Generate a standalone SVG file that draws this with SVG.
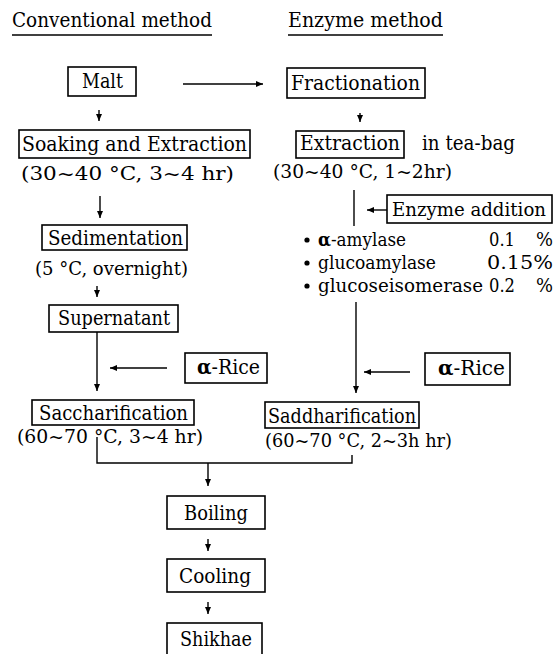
<svg xmlns="http://www.w3.org/2000/svg" width="556" height="654" viewBox="0 0 556 654">
<defs>
<marker id="ah" markerWidth="8" markerHeight="8" refX="7" refY="4" orient="auto" markerUnits="userSpaceOnUse">
<path d="M0,1 L7,4 L0,7 Z" fill="#000"/>
</marker>
<style>
.t{font-family:'DejaVu Serif','Liberation Serif',serif;font-size:20px;fill:#000}
.s{font-size:19px}
.l{font-size:18px}
rect{fill:none;stroke:#000;stroke-width:1.6}
.c line,.c path{stroke:#000;stroke-width:1.4;fill:none}
.a{marker-end:url(#ah)}
.b{font-weight:bold}
</style>
</defs>
<rect x="0" y="0" width="556" height="654" style="fill:#fff;stroke:none"/>
<g class="t">
<g id="headers">
<text x="12" y="27" textLength="200" lengthAdjust="spacingAndGlyphs">Conventional method</text>
<line x1="12" y1="35" x2="212" y2="35" stroke="#000" stroke-width="1.3"/>
<text x="288" y="27" textLength="155" lengthAdjust="spacingAndGlyphs">Enzyme method</text>
<line x1="288" y1="35" x2="443" y2="35" stroke="#000" stroke-width="1.3"/>
</g>
<g id="malt"><rect x="68" y="67" width="68" height="29"/><text x="82" y="88" textLength="41" lengthAdjust="spacingAndGlyphs">Malt</text></g>
<g id="soaking"><rect x="19" y="130" width="231" height="28"/><text x="22" y="151" textLength="225" lengthAdjust="spacingAndGlyphs">Soaking and Extraction</text>
<text class="s" x="21" y="180" textLength="213" lengthAdjust="spacingAndGlyphs">(30~40 °C, 3~4 hr)</text></g>
<g id="sedimentation"><rect x="42" y="225" width="145" height="25"/><text x="48" y="245" textLength="135" lengthAdjust="spacingAndGlyphs">Sedimentation</text>
<text class="s" x="35" y="275" textLength="153" lengthAdjust="spacingAndGlyphs">(5 °C, overnight)</text></g>
<g id="supernatant"><rect x="49" y="305" width="129" height="27"/><text x="58" y="325" textLength="112" lengthAdjust="spacingAndGlyphs">Supernatant</text></g>
<g id="rice1"><rect x="185" y="353" width="82" height="30"/><text x="197" y="374" textLength="63" lengthAdjust="spacingAndGlyphs"><tspan class="b">α</tspan>-Rice</text></g>
<g id="saccharification"><rect x="32" y="400" width="162" height="25"/><text x="39" y="420" textLength="149" lengthAdjust="spacingAndGlyphs">Saccharification</text>
<text class="s" x="17" y="443" textLength="186" lengthAdjust="spacingAndGlyphs">(60~70 °C, 3~4 hr)</text></g>
<g id="fractionation"><rect x="287" y="68" width="138" height="30"/><text x="291" y="90" textLength="129" lengthAdjust="spacingAndGlyphs">Fractionation</text></g>
<g id="extraction"><rect x="296" y="131" width="108" height="27"/><text x="300" y="150" textLength="100" lengthAdjust="spacingAndGlyphs">Extraction</text>
<text x="422" y="150" textLength="93" lengthAdjust="spacingAndGlyphs">in tea-bag</text>
<text class="s" x="273" y="178" textLength="179" lengthAdjust="spacingAndGlyphs">(30~40 °C, 1~2hr)</text></g>
<g id="enzyme"><rect x="387" y="195" width="165" height="28"/><text x="392" y="216" font-size="19" textLength="154" lengthAdjust="spacingAndGlyphs">Enzyme addition</text>
<circle cx="307" cy="240" r="2.6"/><circle cx="307" cy="263" r="2.6"/><circle cx="307" cy="286" r="2.6"/>
<text class="l" x="318" y="246" textLength="88" lengthAdjust="spacingAndGlyphs"><tspan class="b">α</tspan>-amylase</text>
<text class="l" x="489" y="246" textLength="26" lengthAdjust="spacingAndGlyphs">0.1</text><text class="l" x="536" y="246" textLength="17" lengthAdjust="spacingAndGlyphs">%</text>
<text class="l" x="318" y="269" textLength="118" lengthAdjust="spacingAndGlyphs">glucoamylase</text>
<text class="l" x="487" y="269" textLength="66" lengthAdjust="spacingAndGlyphs">0.15%</text>
<text class="l" x="318" y="292" textLength="165" lengthAdjust="spacingAndGlyphs">glucoseisomerase</text>
<text class="l" x="489" y="292" textLength="26" lengthAdjust="spacingAndGlyphs">0.2</text><text class="l" x="536" y="292" textLength="17" lengthAdjust="spacingAndGlyphs">%</text></g>
<g id="rice2"><rect x="425" y="353" width="85" height="32"/><text x="438" y="375" textLength="67" lengthAdjust="spacingAndGlyphs"><tspan class="b">α</tspan>-Rice</text></g>
<g id="saddharification"><rect x="265" y="402" width="154" height="26"/><text x="268" y="423" textLength="148" lengthAdjust="spacingAndGlyphs">Saddharification</text>
<text class="s" x="265" y="447" textLength="187" lengthAdjust="spacingAndGlyphs">(60~70 °C, 2~3h hr)</text></g>
<g id="boiling"><rect x="167" y="496" width="98" height="33"/><text x="184" y="520" textLength="64" lengthAdjust="spacingAndGlyphs">Boiling</text></g>
<g id="cooling"><rect x="167" y="559" width="98" height="33"/><text x="179" y="583" textLength="72" lengthAdjust="spacingAndGlyphs">Cooling</text></g>
<g id="shikhae"><rect x="167" y="623" width="95" height="40"/><text x="180" y="646" textLength="72" lengthAdjust="spacingAndGlyphs">Shikhae</text></g>
</g>
<g class="c" id="connectors">
<line class="a" x1="183" y1="84" x2="263" y2="84"/>
<line class="a" x1="99" y1="110" x2="99" y2="121"/>
<line class="a" x1="100" y1="196" x2="100" y2="218"/>
<line class="a" x1="97" y1="286" x2="97" y2="297"/>
<line class="a" x1="97" y1="332" x2="97" y2="391"/>
<line class="a" x1="167" y1="368" x2="110" y2="368"/>
<line class="a" x1="360" y1="113" x2="360" y2="122"/>
<line x1="354" y1="190" x2="354" y2="226"/>
<line class="a" x1="387" y1="210" x2="367" y2="210"/>
<line class="a" x1="356" y1="302" x2="356" y2="393"/>
<line class="a" x1="410" y1="372" x2="364" y2="372"/>
<path d="M97,437 V463 H352 V455"/>
<line class="a" x1="208" y1="463" x2="208" y2="486"/>
<line class="a" x1="208" y1="539" x2="208" y2="551"/>
<line class="a" x1="208" y1="602" x2="208" y2="614"/>
</g>
</svg>
